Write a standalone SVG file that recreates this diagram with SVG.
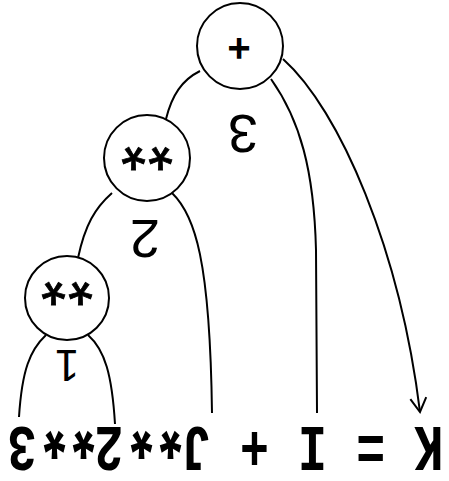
<svg xmlns="http://www.w3.org/2000/svg" width="449" height="481" viewBox="0 0 449 481">
<style>
.node{fill:#fff;stroke:#000;stroke-width:2}
.edge{fill:none;stroke:#000;stroke-width:2}
.op{font-family:"Liberation Sans",sans-serif;font-weight:bold;font-size:40px;text-anchor:middle;fill:#000}
.star{font-family:"Liberation Sans",sans-serif;font-size:64px;letter-spacing:2px;text-anchor:middle;fill:#000;stroke:#000;stroke-width:0.8}
.num{font-family:"Liberation Sans",sans-serif;font-size:54px;text-anchor:middle;fill:#000}
.expr{font-family:"Liberation Mono",monospace;font-weight:bold;font-size:48.5px;fill:#000}
.ast{font-family:"Liberation Sans",sans-serif;font-weight:bold;font-size:56px;letter-spacing:7.2px;baseline-shift:-15px}
</style>
<defs>
<marker id="arr" viewBox="0 0 20 20" refX="18" refY="10" markerWidth="20" markerHeight="20" markerUnits="userSpaceOnUse" orient="auto">
<polyline points="4,2 18,10 4,18" fill="none" stroke="#000" stroke-width="2"/>
</marker>
</defs>
<rect width="449" height="481" fill="#fff"/>
<g id="connectors">
<path class="edge" d="M200,71 C182,80 172,95 166,119"/>
<path class="edge" d="M271,79 C300,120 314,170 316,250 L317,413"/>
<path class="edge" d="M283,59 C340,110 400,250 420,412" marker-end="url(#arr)"/>
<path class="edge" d="M112,193 C95,208 85,225 78,258"/>
<path class="edge" d="M172,193 C195,215 210,260 212,413"/>
<path class="edge" d="M46,335 C30,350 22,370 19,417"/>
<path class="edge" d="M88,335 C105,350 112,375 115,424"/>
</g>
<g id="node-plus">
<circle class="node" cx="240" cy="46" r="43"/>
<text class="op" transform="translate(239,35) rotate(180)">+</text>
</g>
<g id="node-pow2">
<circle class="node" cx="147" cy="158" r="43"/>
<text class="star" transform="translate(146,125) rotate(180)">**</text>
</g>
<g id="node-pow1">
<circle class="node" cx="67" cy="298" r="42"/>
<text class="star" transform="translate(66,260) rotate(180)">**</text>
</g>
<g id="labels">
<text class="num" transform="translate(243,115) rotate(180)">3</text>
<text class="num" transform="translate(145,220) rotate(180)">2</text>
<text class="num" style="font-size:44px" transform="translate(67,350) rotate(180)">1</text>
</g>
<g id="expression">
<text class="expr" transform="translate(443.5,427) rotate(180) scale(1,1.35)">K = I + J<tspan class="ast">**</tspan>2<tspan class="ast">**</tspan>3</text>
</g>
</svg>
